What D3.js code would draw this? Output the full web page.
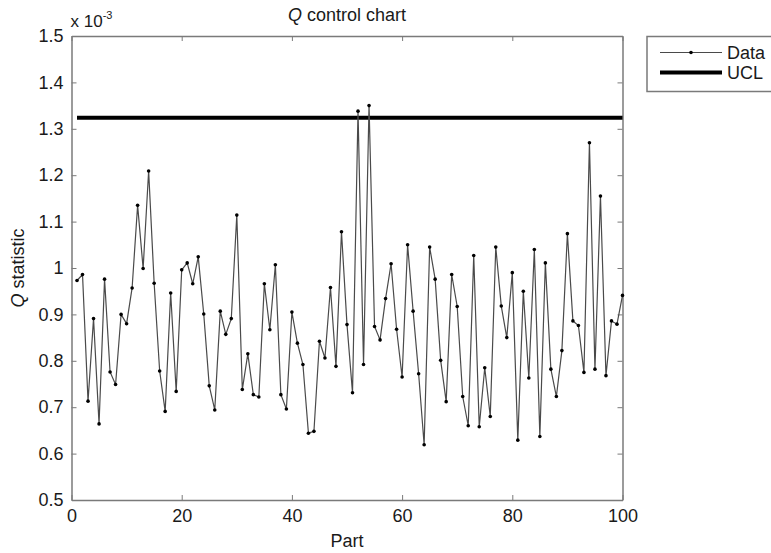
<!DOCTYPE html>
<html>
<head>
<meta charset="utf-8">
<title>Q control chart</title>
<script src="https://d3js.org/d3.v7.min.js"></script>
<style>
    html, body { margin: 0; background: #fff; }
    svg { display: block; font-family: "Liberation Sans", Arial, sans-serif; }
    .axis path, .axis line { stroke: #7a7a7a; }
    .axis text { fill: #1a1a1a; font-size: 18px; }
</style>
</head>
<body>
<svg id="chart" width="771" height="553"></svg>
<script>
// Q statistic per part, in units of 1e-3
var parts = d3.range(1, 101);
var qStat = [
    0.973, 0.986, 0.713, 0.891, 0.664, 0.976, 0.776, 0.749, 0.900, 0.880,
    0.957, 1.135, 0.999, 1.209, 0.967, 0.778, 0.691, 0.946, 0.734, 0.996,
    1.011, 0.966, 1.024, 0.901, 0.746, 0.694, 0.907, 0.857, 0.891, 1.114,
    0.738, 0.815, 0.727, 0.722, 0.966, 0.867, 1.007, 0.727, 0.696, 0.905,
    0.838, 0.792, 0.644, 0.648, 0.842, 0.806, 0.958, 0.788, 1.078, 0.878,
    0.731, 1.338, 0.792, 1.350, 0.874, 0.845, 0.934, 1.009, 0.868, 0.765,
    1.050, 0.907, 0.772, 0.619, 1.045, 0.976, 0.801, 0.712, 0.986, 0.917,
    0.723, 0.660, 1.027, 0.658, 0.785, 0.680, 1.045, 0.918, 0.850, 0.990,
    0.629, 0.950, 0.763, 1.040, 0.637, 1.011, 0.782, 0.723, 0.822, 1.074,
    0.886, 0.876, 0.775, 1.270, 0.782, 1.155, 0.768, 0.886, 0.879, 0.941
];
var ucl = 1.324;
var xTicks = [0, 20, 40, 60, 80, 100];
var yTicks = [0.5, 0.6, 0.7, 0.8, 0.9, 1, 1.1, 1.2, 1.3, 1.4, 1.5];
var legendItems = ["Data", "UCL"];

var svg = d3.select("#chart");
// plot box (window.top is reserved, so pTop etc.)
var pLeft = 71.5, pRight = 622.5, pTop = 36, pBottom = 500;

var x = d3.scaleLinear().domain([0, 100]).range([pLeft, pRight]);
var y = d3.scaleLinear().domain([0.5, 1.5]).range([pBottom, pTop]);

/* box with inward ticks on all four sides */
var fmt = d3.format("");
svg.append("g").attr("class", "axis")
    .attr("transform", "translate(0," + pBottom + ")")
    .call(d3.axisBottom(x).tickValues(xTicks).tickSizeInner(-5).tickSizeOuter(0).tickPadding(9).tickFormat(fmt));
svg.append("g").attr("class", "axis")
    .attr("transform", "translate(0," + pTop + ")")
    .call(d3.axisTop(x).tickValues(xTicks).tickSizeInner(-5).tickSizeOuter(0).tickFormat(""));
svg.append("g").attr("class", "axis")
    .attr("transform", "translate(" + pLeft + ",0)")
    .call(d3.axisLeft(y).tickValues(yTicks).tickSizeInner(-5).tickSizeOuter(0).tickPadding(8).tickFormat(fmt));
svg.append("g").attr("class", "axis")
    .attr("transform", "translate(" + pRight + ",0)")
    .call(d3.axisRight(y).tickValues(yTicks).tickSizeInner(-5).tickSizeOuter(0).tickFormat(""));
svg.selectAll(".axis path").attr("stroke-width", 1.5);

// UCL
svg.append("line")
    .attr("x1", x(1)).attr("x2", x(100))
    .attr("y1", y(ucl)).attr("y2", y(ucl))
    .attr("stroke", "#000").attr("stroke-width", 4);

// data line + markers
var line = d3.line()
    .x(function(d, i) { return x(parts[i]); })
    .y(function(d) { return y(d); });
svg.append("path")
    .datum(qStat)
    .attr("d", line)
    .attr("fill", "none")
    .attr("stroke", "#4a4a4a")
    .attr("stroke-width", 1.2);
svg.append("g").selectAll("circle")
    .data(qStat)
    .enter().append("circle")
    .attr("cx", function(d, i) { return x(parts[i]); })
    .attr("cy", function(d) { return y(d); })
    .attr("r", 1.8)
    .attr("fill", "#000");

// titles
var title = svg.append("text")
    .attr("x", (pLeft + pRight) / 2).attr("y", 21)
    .attr("text-anchor", "middle")
    .attr("font-size", 18).attr("fill", "#1a1a1a");
title.append("tspan").attr("font-style", "italic").text("Q");
title.append("tspan").text(" control chart");

var expo = svg.append("text")
    .attr("x", pLeft - 1).attr("y", 27)
    .attr("font-size", 17).attr("fill", "#1a1a1a");
expo.append("tspan").text("x 10");
expo.append("tspan").attr("dy", -8).attr("font-size", 11).text("-3");

svg.append("text")
    .attr("x", (pLeft + pRight) / 2).attr("y", 547)
    .attr("text-anchor", "middle")
    .attr("font-size", 18).attr("fill", "#1a1a1a")
    .text("Part");

var ylab = svg.append("text")
    .attr("transform", "translate(24," + (pTop + pBottom) / 2 + ") rotate(-90)")
    .attr("text-anchor", "middle")
    .attr("font-size", 18).attr("fill", "#1a1a1a");
ylab.append("tspan").attr("font-style", "italic").text("Q");
ylab.append("tspan").text(" statistic");

// legend
var lg = svg.append("g");
lg.append("rect")
    .attr("x", 647).attr("y", 36.5)
    .attr("width", 140).attr("height", 55)
    .attr("fill", "#fff").attr("stroke", "#7a7a7a").attr("stroke-width", 1.5);
legendItems.forEach(function(name, i) {
    var ly = 52.5 + i * 20;
    lg.append("line")
        .attr("x1", 660).attr("x2", 722).attr("y1", ly).attr("y2", ly)
        .attr("stroke", i === 0 ? "#4a4a4a" : "#000")
        .attr("stroke-width", i === 0 ? 1.2 : 4);
    if (i === 0) {
        lg.append("circle").attr("cx", 691).attr("cy", ly).attr("r", 1.8).attr("fill", "#000");
    }
    lg.append("text")
        .attr("x", 727).attr("y", ly + 6)
        .attr("font-size", 18).attr("fill", "#1a1a1a")
        .text(name);
});
</script>
</body>
</html>
